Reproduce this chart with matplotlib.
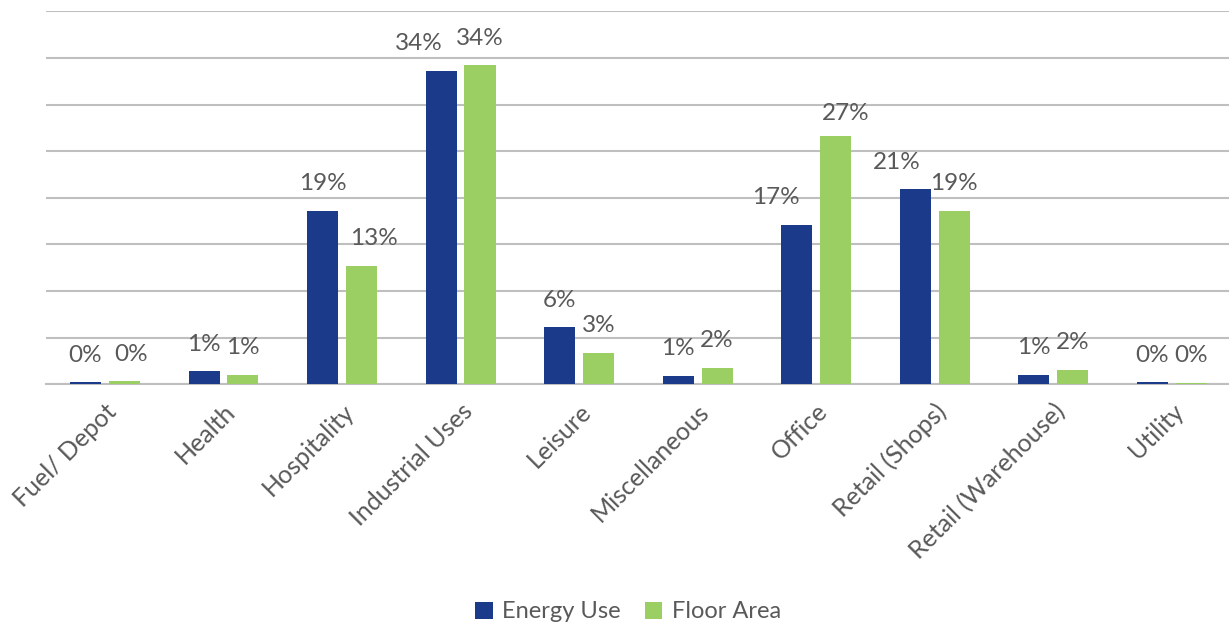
import matplotlib
matplotlib.use("Agg")
import matplotlib.pyplot as plt
import numpy as np

categories = ["Fuel/ Depot", "Health", "Hospitality", "Industrial Uses", "Leisure",
              "Miscellaneous", "Office", "Retail (Shops)", "Retail (Warehouse)", "Utility"]
energy_use = [0.2, 1.4, 18.6, 33.6, 6.1, 0.9, 17.1, 20.9, 1.0, 0.2]
floor_area = [0.35, 1.0, 12.7, 34.2, 3.4, 1.8, 26.6, 18.6, 1.55, 0.15]
series_names = ["Energy Use", "Floor Area"]

# manual nudges (pixels) for a few data labels so they don't collide
energy_nudge = {3: (-22, 0), 6: (-21, 0), 7: (-18, 0)}
floor_nudge = {0: (7, 0), 2: (12, 0), 6: (10, -4)}

BLUE = "#1B3A8A"
GREEN = "#9CCF63"
GRID = "#BFBFBF"
TEXT = "#595959"

plt.rcParams["font.family"] = ["Lato", "DejaVu Sans"]

W, H = 1229, 627
fig = plt.figure(figsize=(W / 100, H / 100), dpi=100)
left, right = 45.7, 1231.0
top, bottom = 11.3, 384.3
ax = fig.add_axes([left / W, 1 - bottom / H, (right - left) / W, (bottom - top) / H])

x = np.arange(len(categories))
bw = 0.262
off = 0.164
b1 = ax.bar(x - off, energy_use, bw, color=BLUE, label=series_names[0], zorder=3)
b2 = ax.bar(x + off, floor_area, bw, color=GREEN, label=series_names[1], zorder=3)

ax.set_xlim(-0.5, len(categories) - 0.5)
ax.set_ylim(0, 40)
ax.set_yticks(np.arange(0, 41, 5))
ax.yaxis.grid(True, color=GRID, linewidth=1.5, zorder=0)
ax.tick_params(axis="y", left=False, labelleft=False)
ax.tick_params(axis="x", length=0, pad=11)
for s in ["top", "right", "left"]:
    ax.spines[s].set_visible(False)
ax.spines["bottom"].set_color(GRID)
ax.spines["bottom"].set_linewidth(1.5)
ax.set_axisbelow(True)

ax.set_xticks(x)
ax.set_xticklabels(categories, rotation=45, ha="right", rotation_mode="anchor",
                   fontsize=18, color=TEXT)

def label_bars(bars, values, nudges):
    for i, (rect, v) in enumerate(zip(bars, values)):
        dx, dy = nudges.get(i, (0, 0))
        ax.annotate(f"{v:.0f}%", (rect.get_x() + rect.get_width() / 2, rect.get_height()),
                    xytext=(dx, 27 + dy), textcoords="offset pixels",
                    ha="center", va="center", fontsize=17.5, color=TEXT, zorder=4)

label_bars(b1, energy_use, energy_nudge)
label_bars(b2, floor_area, floor_nudge)

fig.legend(handles=[b1, b2], labels=series_names, loc="center",
           bbox_to_anchor=(628 / W, 1 - 612 / H), ncol=2, frameon=False,
           fontsize=17, handlelength=0.75, handleheight=0.75, handletextpad=0.4,
           columnspacing=1.0, labelcolor=TEXT)

fig.savefig("out.png", dpi=100, facecolor="white")
